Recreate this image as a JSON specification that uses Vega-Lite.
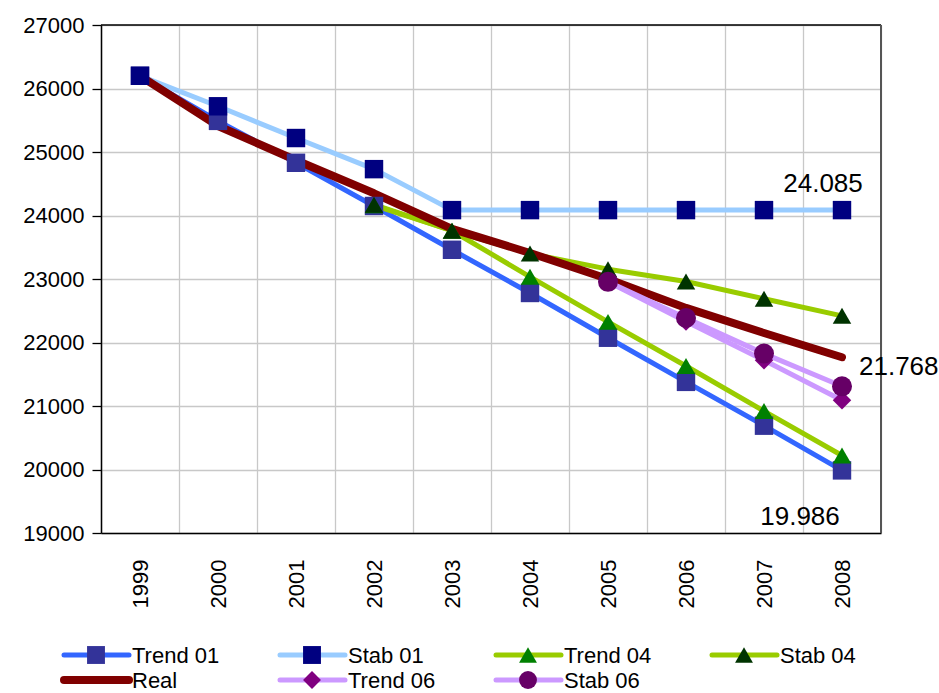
{
  "$schema": "https://vega.github.io/schema/vega-lite/v6.json",
  "padding": {"left": 22, "top": 14, "right": 5, "bottom": 2},
  "background": "white",
  "config": {"font": "Liberation Sans", "view": {"stroke": null}},
  "datasets": {
    "series": [
      {"series": "Trend 01", "year": "1999", "value": 26200},
      {"series": "Trend 01", "year": "2000", "value": 25490},
      {"series": "Trend 01", "year": "2001", "value": 24830},
      {"series": "Trend 01", "year": "2002", "value": 24150},
      {"series": "Trend 01", "year": "2003", "value": 23460},
      {"series": "Trend 01", "year": "2004", "value": 22780},
      {"series": "Trend 01", "year": "2005", "value": 22075},
      {"series": "Trend 01", "year": "2006", "value": 21380},
      {"series": "Trend 01", "year": "2007", "value": 20690},
      {"series": "Trend 01", "year": "2008", "value": 19986, "label": "19.986"},
      {"series": "Stab 01", "year": "1999", "value": 26200},
      {"series": "Stab 01", "year": "2000", "value": 25720},
      {"series": "Stab 01", "year": "2001", "value": 25220},
      {"series": "Stab 01", "year": "2002", "value": 24730},
      {"series": "Stab 01", "year": "2003", "value": 24085},
      {"series": "Stab 01", "year": "2004", "value": 24085},
      {"series": "Stab 01", "year": "2005", "value": 24085},
      {"series": "Stab 01", "year": "2006", "value": 24085},
      {"series": "Stab 01", "year": "2007", "value": 24085},
      {"series": "Stab 01", "year": "2008", "value": 24085, "label": "24.085"},
      {"series": "Trend 04", "year": "2002", "value": 24160},
      {"series": "Trend 04", "year": "2003", "value": 23760},
      {"series": "Trend 04", "year": "2004", "value": 23035},
      {"series": "Trend 04", "year": "2005", "value": 22325},
      {"series": "Trend 04", "year": "2006", "value": 21630},
      {"series": "Trend 04", "year": "2007", "value": 20920},
      {"series": "Trend 04", "year": "2008", "value": 20220},
      {"series": "Stab 04", "year": "2002", "value": 24170},
      {"series": "Stab 04", "year": "2003", "value": 23760},
      {"series": "Stab 04", "year": "2004", "value": 23400},
      {"series": "Stab 04", "year": "2005", "value": 23155},
      {"series": "Stab 04", "year": "2006", "value": 22960},
      {"series": "Stab 04", "year": "2007", "value": 22690},
      {"series": "Stab 04", "year": "2008", "value": 22420},
      {"series": "Real", "year": "1999", "value": 26200},
      {"series": "Real", "year": "2000", "value": 25410},
      {"series": "Real", "year": "2001", "value": 24870},
      {"series": "Real", "year": "2002", "value": 24350},
      {"series": "Real", "year": "2003", "value": 23790},
      {"series": "Real", "year": "2004", "value": 23410},
      {"series": "Real", "year": "2005", "value": 23000},
      {"series": "Real", "year": "2006", "value": 22545},
      {"series": "Real", "year": "2007", "value": 22150},
      {"series": "Real", "year": "2008", "value": 21768, "label": "21.768"},
      {"series": "Trend 06", "year": "2005", "value": 22955},
      {"series": "Trend 06", "year": "2006", "value": 22330},
      {"series": "Trend 06", "year": "2007", "value": 21720},
      {"series": "Trend 06", "year": "2008", "value": 21090},
      {"series": "Stab 06", "year": "2005", "value": 22955},
      {"series": "Stab 06", "year": "2006", "value": 22386},
      {"series": "Stab 06", "year": "2007", "value": 21825},
      {"series": "Stab 06", "year": "2008", "value": 21310}
    ],
    "legend": [
      {"series": "Trend 01", "col": 0, "row": 0},
      {"series": "Stab 01", "col": 1, "row": 0},
      {"series": "Trend 04", "col": 2, "row": 0},
      {"series": "Stab 04", "col": 3, "row": 0},
      {"series": "Real", "col": 0, "row": 1},
      {"series": "Trend 06", "col": 1, "row": 1},
      {"series": "Stab 06", "col": 2, "row": 1}
    ]
  },
  "vconcat": [
    {
      "width": 780,
      "height": 508,
      "data": {"name": "series"},
      "encoding": {
        "x": {
          "field": "year", "type": "ordinal",
          "scale": {"paddingInner": 0, "paddingOuter": 0},
          "axis": {
            "title": null, "labelAngle": -90, "labelAlign": "right", "labelBaseline": "middle",
            "labelFontSize": 22, "labelColor": "#000", "labelPadding": 26,
            "ticks": false, "tickBand": "extent", "grid": true, "gridColor": "#C8C8C8", "gridWidth": 1.3,
            "domainColor": "#000", "domainWidth": 1.5
          }
        },
        "y": {
          "field": "value", "type": "quantitative",
          "scale": {"domain": [19000, 27000], "nice": false, "zero": false},
          "axis": {
            "title": null, "values": [19000, 20000, 21000, 22000, 23000, 24000, 25000, 26000, 27000],
            "format": "d", "labelFontSize": 22, "labelColor": "#000", "labelPadding": 8,
            "tickSize": 9, "tickColor": "#000", "tickWidth": 1.3,
            "grid": true, "gridColor": "#C8C8C8", "gridWidth": 1.3,
            "domainColor": "#000", "domainWidth": 1.5
          }
        }
      },
      "layer": [
        {
          "mark": {"type": "rule", "color": "#000", "strokeWidth": 1.5},
          "data": {"values": [{"v": 27000}]},
          "encoding": {"y": {"field": "v", "type": "quantitative"}, "x": null}
        },
        {
          "mark": {"type": "rule", "color": "#555", "strokeWidth": 2},
          "data": {"values": [{"yr": "2008", "a": 19000, "b": 27000}]},
          "encoding": {
            "x": {"field": "yr", "type": "ordinal", "bandPosition": 1},
            "y": {"field": "a", "type": "quantitative"},
            "y2": {"field": "b"}
          }
        },
        {
          "mark": {"type": "line", "strokeJoin": "round", "strokeCap": "round"},
          "encoding": {
            "color": {
              "field": "series", "type": "nominal", "legend": null,
              "scale": {
                "domain": ["Trend 01", "Stab 01", "Trend 04", "Stab 04", "Real", "Trend 06", "Stab 06"],
                "range": ["#3366FF", "#99CCFF", "#99CC00", "#99CC00", "#800000", "#CC99FF", "#CC99FF"]
              }
            },
            "strokeWidth": {"condition": {"test": "datum.series === 'Real'", "value": 8}, "value": 5},
            "order": {"field": "year"}
          }
        },
        {
          "transform": [{"filter": "datum.series !== 'Real'"}],
          "mark": {"type": "point", "filled": true, "opacity": 1, "strokeWidth": 0},
          "encoding": {
            "fill": {
              "field": "series", "type": "nominal", "legend": null,
              "scale": {
                "domain": ["Trend 01", "Stab 01", "Trend 04", "Stab 04", "Trend 06", "Stab 06"],
                "range": ["#333399", "#000080", "#008000", "#003300", "#800080", "#660066"]
              }
            },
            "shape": {
              "field": "series", "type": "nominal", "legend": null,
              "scale": {
                "domain": ["Trend 01", "Stab 01", "Trend 04", "Stab 04", "Trend 06", "Stab 06"],
                "range": ["square", "square", "triangle-up", "triangle-up", "diamond", "circle"]
              }
            },
            "size": {"condition": {"test": "datum.series === 'Stab 06'", "value": 400}, "value": 340}
          }
        },
        {
          "transform": [{"filter": "datum.series === 'Stab 01' && datum.label"}],
          "mark": {"type": "text", "fontSize": 26, "color": "#000", "align": "center", "baseline": "middle", "dx": -19, "dy": -26},
          "encoding": {"text": {"field": "label"}}
        },
        {
          "transform": [{"filter": "datum.series === 'Real' && datum.label"}],
          "mark": {"type": "text", "fontSize": 26, "color": "#000", "align": "left", "baseline": "middle", "dx": 17, "dy": 10},
          "encoding": {"text": {"field": "label"}}
        },
        {
          "transform": [{"filter": "datum.series === 'Trend 01' && datum.label"}],
          "mark": {"type": "text", "fontSize": 26, "color": "#000", "align": "center", "baseline": "middle", "dx": -42, "dy": 47},
          "encoding": {"text": {"field": "label"}}
        }
      ]
    },
    {
      "width": 830,
      "height": 44,
      "data": {"name": "legend"},
      "encoding": {
        "x": {"field": "col", "type": "quantitative", "scale": {"domain": [0, 4], "range": [-37, 827]}, "axis": null},
        "y": {"field": "row", "type": "quantitative", "scale": {"domain": [0, 1], "range": [10, 35]}, "axis": null}
      },
      "layer": [
        {
          "mark": {"type": "rule", "x2Offset": 65, "strokeCap": "round"},
          "encoding": {
            "x2": {"field": "col"},
            "y2": {"field": "row"},
            "color": {
              "field": "series", "type": "nominal", "legend": null,
              "scale": {
                "domain": ["Trend 01", "Stab 01", "Trend 04", "Stab 04", "Real", "Trend 06", "Stab 06"],
                "range": ["#3366FF", "#99CCFF", "#99CC00", "#99CC00", "#800000", "#CC99FF", "#CC99FF"]
              }
            },
            "strokeWidth": {"condition": {"test": "datum.series === 'Real'", "value": 8}, "value": 5}
          }
        },
        {
          "transform": [{"filter": "datum.series !== 'Real'"}],
          "mark": {"type": "point", "filled": true, "opacity": 1, "strokeWidth": 0, "xOffset": 32},
          "encoding": {
            "fill": {
              "field": "series", "type": "nominal", "legend": null,
              "scale": {
                "domain": ["Trend 01", "Stab 01", "Trend 04", "Stab 04", "Trend 06", "Stab 06"],
                "range": ["#333399", "#000080", "#008000", "#003300", "#800080", "#660066"]
              }
            },
            "shape": {
              "field": "series", "type": "nominal", "legend": null,
              "scale": {
                "domain": ["Trend 01", "Stab 01", "Trend 04", "Stab 04", "Trend 06", "Stab 06"],
                "range": ["square", "square", "triangle-up", "triangle-up", "diamond", "circle"]
              }
            },
            "size": {"value": 320}
          }
        },
        {
          "mark": {"type": "text", "fontSize": 22, "color": "#000", "align": "left", "baseline": "middle", "dx": 68, "dy": 1},
          "encoding": {"text": {"field": "series"}}
        }
      ]
    }
  ],
  "spacing": 37
}
